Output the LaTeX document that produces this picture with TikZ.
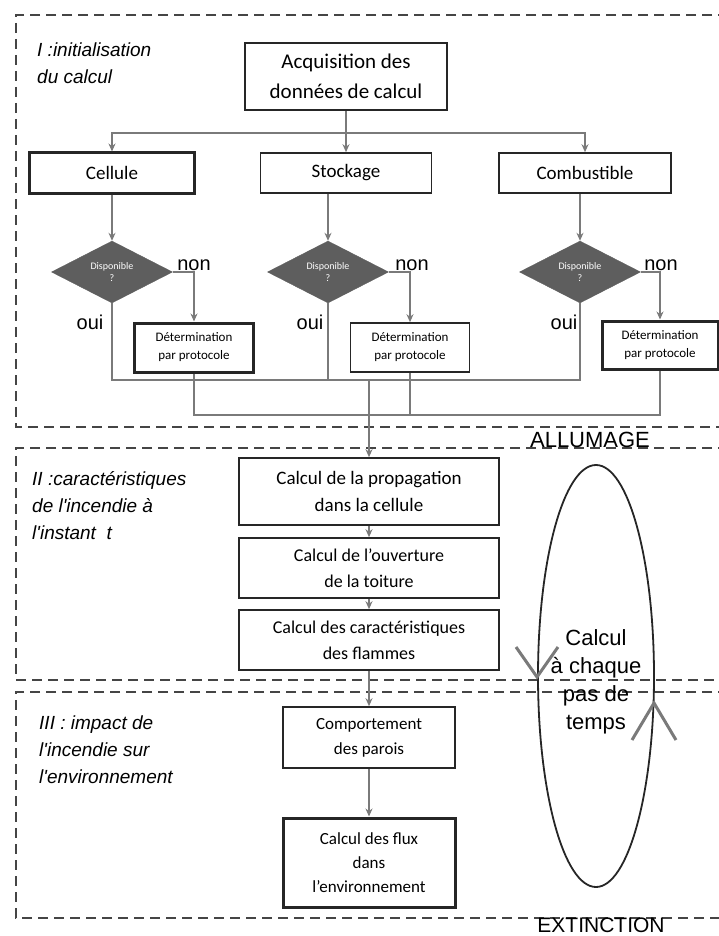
\documentclass[tikz,border=0pt]{standalone}
\usepackage{fontspec}
\setmainfont{Carlito}
\newfontfamily\arialfont{Liberation Sans}
\usetikzlibrary{shapes.geometric,arrows.meta}
\definecolor{linegray}{HTML}{7A7A7A}
\definecolor{boxgray}{HTML}{262626}
\definecolor{diagray}{HTML}{5E5E5E}
\definecolor{framegray}{HTML}{454545}

\begin{document}
\begin{tikzpicture}[x=1pt,y=-1pt,
    box/.style={draw=boxgray,line width=1.6pt,fill=white,align=center,inner sep=0pt,font=\fontsize{19}{27}\selectfont},
    heavy/.style={line width=3pt},
    detbox/.style={box,minimum width=119pt,minimum height=49pt,font=\fontsize{13}{18}\selectfont},
    dispo/.style={diamond,draw=diagray,fill=diagray,text=white,minimum width=121pt,minimum height=60pt,inner sep=0pt,align=center,font=\fontsize{10}{12}\selectfont},
    lbl/.style={font=\arialfont\fontsize{20}{22}\selectfont,inner sep=0pt},
    phase/.style={font=\arialfont\fontsize{22}{26}\selectfont,inner sep=0pt},
    part/.style={font=\arialfont\itshape\fontsize{19}{27}\selectfont,align=left,anchor=west,inner sep=0pt},
    conn/.style={draw=linegray,line width=2.2pt},
    arr/.style={conn,-{Stealth[length=8pt,width=7pt]}},
    phaseframe/.style={draw=framegray,line width=2.8pt,dash pattern=on 10pt off 6pt},
    vmark/.style={draw=linegray,line width=3pt}]
    \useasboundingbox (0,0) rectangle (719,936);
    \clip (0,0) rectangle (719,936);
    \draw[phaseframe] (760,15) -| (16,427) -- (760,427);
    \draw[phaseframe] (760,448) -| (16,680) -- (760,680);
    \draw[phaseframe] (760,692) -| (16,918) -- (760,918);
    \node[part] (p1) at (37,63) {I :initialisation\\du calcul};
    \node[part] (p2) at (32,506) {II :caractéristiques\\de l'incendie à\\l'instant\ \ t};
    \node[part] (p3) at (39,750) {III : impact de\\l'incendie sur\\l'environnement};
    \node[phase] (allum) at (590,440) {ALLUMAGE};
    \node[phase,font=\arialfont\fontsize{21}{24}\selectfont] (extin) at (601,925) {EXTINCTION};
    \node[box,minimum width=202pt,minimum height=67pt,font=\fontsize{21}{30}\selectfont] (acq) at (346,76.5) {Acquisition des\\données de calcul};
    \node[box,heavy,minimum width=165pt,minimum height=40pt] (cel) at (112,173) {Cellule};
    \node[box,minimum width=171pt,minimum height=40pt] (sto) at (346,173) {Stockage};
    \node[box,minimum width=172pt,minimum height=40pt] (com) at (585,173) {Combustible};
    \node[dispo] (dcel) at (112,272) {Disponible\\?};
    \node[dispo] (dsto) at (328,272) {Disponible\\?};
    \node[dispo] (dcom) at (580,272) {Disponible\\?};
    \node[lbl] (ncel) at (194,265) {non};
    \node[lbl] (nsto) at (412,265) {non};
    \node[lbl] (ncom) at (661,265) {non};
    \node[lbl] (ocel) at (90,322) {oui};
    \node[lbl] (osto) at (310,322) {oui};
    \node[lbl] (ocom) at (564,322) {oui};
    \node[detbox,heavy] (detcel) at (194,347.5) {Détermination\\par protocole};
    \node[detbox] (detsto) at (410,347.5) {Détermination\\par protocole};
    \node[detbox,heavy,minimum width=116pt,minimum height=48pt] (detcom) at (660,345) {Détermination\\par protocole};
    \coordinate (split) at (346,133);
    \coordinate (ouijoin) at (369,380);
    \coordinate (detjoin) at (369,415);
    \draw[conn] (acq.south) -- (split);
    \draw[arr] (split) -- (sto.north);
    \draw[arr] (split) -| (cel.north);
    \draw[arr] (split) -| (com.north);
    \draw[arr] (cel.south) -- (dcel.north);
    \draw[arr] (sto.south -| dsto.north) -- (dsto.north);
    \draw[arr] (com.south -| dcom.north) -- (dcom.north);
    \draw[arr] (dcel.east) -| (detcel.north);
    \draw[arr] (dsto.east) -| (detsto.north);
    \draw[arr] (dcom.east) -| (detcom.north);
    \draw[conn] (dcel.south) |- (dcom.south |- ouijoin) -- (dcom.south);
    \draw[conn] (dsto.south) -- (dsto.south |- ouijoin);
    \draw[conn] (detcel.south) |- (detcom.south |- detjoin) -- (detcom.south);
    \draw[conn] (detsto.south) -- (detsto.south |- detjoin);
    \node[box,minimum width=260pt,minimum height=67pt] (prop) at (369,491.5) {Calcul de la propagation\\dans la cellule};
    \node[box,minimum width=260pt,minimum height=60pt,font=\fontsize{18}{26}\selectfont] (ouv) at (369,568) {Calcul de l'ouverture\\de la toiture};
    \node[box,minimum width=260pt,minimum height=60pt,font=\fontsize{18}{26}\selectfont] (flam) at (369,640) {Calcul des caractéristiques\\des flammes};
    \node[box,minimum width=172pt,minimum height=61pt,font=\fontsize{17}{25}\selectfont] (comp) at (369,737.5) {Comportement\\des parois};
    \node[box,heavy,minimum width=172pt,minimum height=89pt,font=\fontsize{17}{24}\selectfont] (flux) at (369,862.5) {Calcul des flux\\dans\\l'environnement};
    \draw[arr] (ouijoin) -- (prop.north);
    \draw[arr] (prop) -- (ouv);
    \draw[arr] (ouv) -- (flam);
    \draw[arr] (flam) -- (comp);
    \draw[arr] (comp) -- (flux);
    \draw[draw=boxgray,line width=1.8pt] (596,676) ellipse [x radius=58, y radius=211];
    \node[font=\arialfont\fontsize{22}{28}\selectfont,align=center] (boucle) at (596,682) {Calcul\\à chaque\\pas de\\temps};
    \draw[vmark] (516,647) -- (537,677) -- (558,647);
    \draw[vmark] (632,740) -- (654,703) -- (676,740);
\end{tikzpicture}
\end{document}
